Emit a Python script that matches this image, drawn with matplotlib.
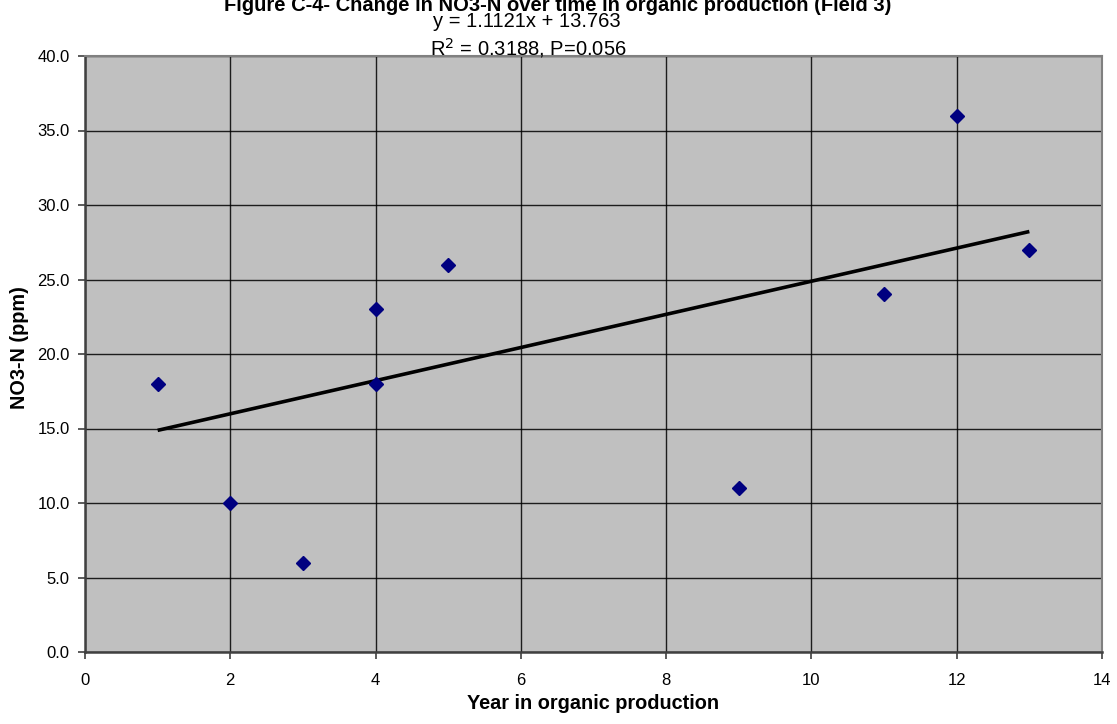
import matplotlib
matplotlib.use("Agg")
import matplotlib.pyplot as plt

# data
years = [1, 2, 3, 4, 4, 5, 9, 11, 12, 13]
no3_n = [18, 10, 6, 23, 18, 26, 11, 24, 36, 27]

# trend line as printed on the chart
slope = 1.1121
intercept = 13.763
r_squared = 0.3188
p_value = 0.056

title = "Figure C-4- Change in NO3-N over time in organic production (Field 3)"

plt.rcParams["font.family"] = ["Liberation Sans", "DejaVu Sans"]

fig = plt.figure(figsize=(11.17, 7.24), dpi=100)
W, H = 1117, 724
ax = fig.add_axes([85 / W, 1 - 652 / H, (1102 - 85) / W, (652 - 56) / H])
ax.set_facecolor("#c0c0c0")

ax.set_xlim(0, 14)
ax.set_ylim(0, 40)
ax.set_xticks(range(0, 15, 2))
ax.set_yticks([i * 5 for i in range(9)])
ax.set_yticklabels(["%.1f" % (i * 5) for i in range(9)])
ax.grid(True, color="black", linewidth=1.0, alpha=0.85)
ax.set_axisbelow(True)

for side in ["left", "bottom"]:
    ax.spines[side].set_color("#404040")
    ax.spines[side].set_linewidth(1.8)
for side in ["top", "right"]:
    ax.spines[side].set_color("#808080")
    ax.spines[side].set_linewidth(1.5)

ax.tick_params(direction="out", length=5, width=1.2, color="#404040", labelsize=12)
ax.tick_params(axis="x", pad=10)
ax.tick_params(axis="y", pad=6)

# trendline
tx = [min(years), max(years)]
ty = [slope * x + intercept for x in tx]
ax.plot(tx, ty, color="black", linewidth=2.6, zorder=3, solid_capstyle="butt")

ax.plot(years, no3_n, linestyle="none", marker="D", markersize=7,
        color="#000080", zorder=4)

# axis labels placed by pixel position
fig.text(593 / W, 1 - 709 / H, "Year in organic production", ha="center",
         va="baseline", fontsize=14.3, fontweight="bold")
fig.text(20 / W, 1 - 348 / H, "NO3-N (ppm)", ha="center", va="center",
         rotation=90, fontsize=14.3, fontweight="bold")

# title sits partly above the top edge, as in the original export
fig.text(558 / W, 1 - 11 / H, title, ha="center", va="baseline",
         fontsize=14.5, fontweight="bold")
fig.text(527 / W, 1 - 27 / H, "y = %.4fx + %.3f" % (slope, intercept),
         ha="center", va="baseline", fontsize=14.5)
fig.text(528 / W, 1 - 55 / H, "R$^2$ = %.4f, P=%.3f" % (r_squared, p_value),
         ha="center", va="baseline", fontsize=14.5)

fig.savefig("out.png", dpi=100)
